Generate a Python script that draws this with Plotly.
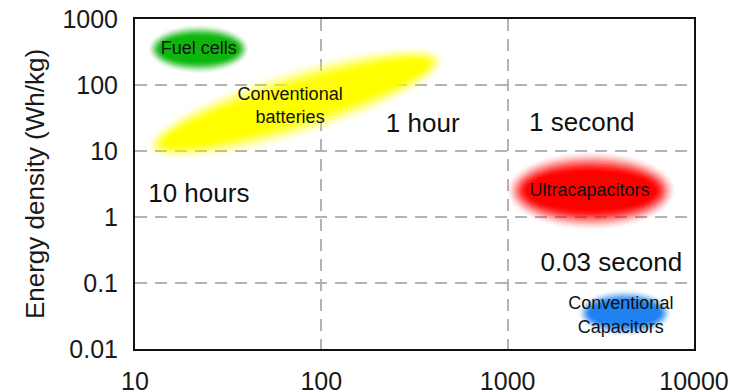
import numpy as np
import plotly.graph_objects as go

# ---- axis ticks --------------------------------------------------------
power_ticks = [10, 100, 1000, 10000]
power_tick_text = ["10", "100", "1000", "10000"]
energy_ticks = [0.01, 0.1, 1, 10, 100, 1000]
energy_tick_text = ["0.01", "0.1", "1", "10", "100", "1000"]

# ---- device regions (centre of each cloud) ----------------------------
device_names = ["Fuel cells", "Conventional batteries", "Ultracapacitors", "Conventional Capacitors"]
device_power = [22, 73, 2800, 4250]          # W/kg
device_energy = [350, 53, 2.5, 0.035]        # Wh/kg

# labels written inside the clouds
device_labels = ["Fuel cells", "Conventional<br>batteries", "Ultracapacitors", "Conventional<br>Capacitors"]
label_power = [22, 68, 2750, 4050]
label_energy = [350, 46, 2.45, 0.031]

# ---- discharge-time annotations ----------------------------------------
time_labels = ["10 hours", "1 hour", "1 second", "0.03 second"]
time_power = [22, 350, 2500, 3600]
time_energy = [2.1, 24, 25, 0.19]

# ---- figure geometry ---------------------------------------------------
FIG_W, FIG_H = 745, 390
M_L, M_R, M_T, M_B = 135, 51, 19, 41
PLOT_W = FIG_W - M_L - M_R
PLOT_H = FIG_H - M_T - M_B
X_RANGE = (1, 4)      # log10 of power density
Y_RANGE = (-2, 3)     # log10 of energy density

# cloud shape: outer semi-axes (px), tilt (deg), soft-edge width (px), colour
cloud_style = [
    dict(a=51, b=25, tilt=0, ramp=13, rgb=(12, 182, 12)),
    dict(a=156, b=36, tilt=17, ramp=22, rgb=(255, 255, 0)),
    dict(a=85, b=40, tilt=0, ramp=22, rgb=(255, 0, 0)),
    dict(a=47, b=24, tilt=0, ramp=13, rgb=(32, 130, 240)),
]

FONT = "Liberation Sans, Arial, sans-serif"


def to_px(p, e):
    px = (np.log10(p) - X_RANGE[0]) / (X_RANGE[1] - X_RANGE[0]) * PLOT_W
    py = (np.log10(e) - Y_RANGE[0]) / (Y_RANGE[1] - Y_RANGE[0]) * PLOT_H
    return px, py


def from_px(px, py):
    p = 10 ** (X_RANGE[0] + px / PLOT_W * (X_RANGE[1] - X_RANGE[0]))
    e = 10 ** (Y_RANGE[0] + py / PLOT_H * (Y_RANGE[1] - Y_RANGE[0]))
    return p, e


def smoothstep(t):
    return t * t * (3 - 2 * t)


fig = go.Figure()

theta = np.linspace(0, 2 * np.pi, 160)
N_LAYERS = 18
for p0, e0, st in zip(device_power, device_energy, cloud_style):
    cx, cy = to_px(p0, e0)
    ang = np.radians(st["tilt"])
    prev = 0.0
    for m in range(1, N_LAYERS + 1):
        shrink = st["ramp"] * (m - 1) / (N_LAYERS - 1)
        a = st["a"] - shrink
        b = st["b"] - shrink
        ex = a * np.cos(theta)
        ey = b * np.sin(theta)
        rx = cx + ex * np.cos(ang) - ey * np.sin(ang)
        ry = cy + ex * np.sin(ang) + ey * np.cos(ang)
        xs, ys = from_px(rx, ry)
        target = smoothstep(m / N_LAYERS)
        alpha = 1.0 if target >= 1 else 1 - (1 - target) / (1 - prev)
        prev = target
        r, g, bl = st["rgb"]
        fig.add_trace(go.Scatter(
            x=xs, y=ys, mode="lines", fill="toself",
            fillcolor=f"rgba({r},{g},{bl},{alpha:.4f})",
            line=dict(width=0), hoverinfo="skip", showlegend=False,
        ))

# names inside the clouds
fig.add_trace(go.Scatter(
    x=label_power, y=label_energy, mode="text", text=device_labels,
    textfont=dict(family=FONT, size=18, color="#111111"),
    hoverinfo="skip", showlegend=False,
))

# discharge-time labels
fig.add_trace(go.Scatter(
    x=time_power, y=time_energy, mode="text", text=time_labels,
    textfont=dict(family=FONT, size=26, color="#111111"),
    hoverinfo="skip", showlegend=False,
))

axis_common = dict(
    type="log",
    showgrid=True,
    gridcolor="#b3b3b3",
    gridwidth=2,
    griddash="12px,8px",
    showline=True,
    linecolor="#111111",
    linewidth=2,
    mirror=True,
    zeroline=False,
    ticks="",
    tickfont=dict(family=FONT, size=25, color="#1a1a1a"),
)

fig.update_xaxes(
    range=list(X_RANGE),
    tickvals=power_ticks,
    ticktext=power_tick_text,
    ticklabelstandoff=9,
    **axis_common,
)
fig.update_yaxes(
    range=list(Y_RANGE),
    tickvals=energy_ticks,
    ticktext=energy_tick_text,
    ticklabelstandoff=10,
    title=dict(text="Energy density (Wh/kg)",
               font=dict(family=FONT, size=26, color="#1a1a1a"),
               standoff=10),
    **axis_common,
)

fig.update_layout(
    width=FIG_W,
    height=FIG_H,
    margin=dict(l=M_L, r=M_R, t=M_T, b=M_B, autoexpand=False),
    paper_bgcolor="white",
    plot_bgcolor="white",
    font=dict(family=FONT),
    showlegend=False,
)

fig.write_html("out.html")
